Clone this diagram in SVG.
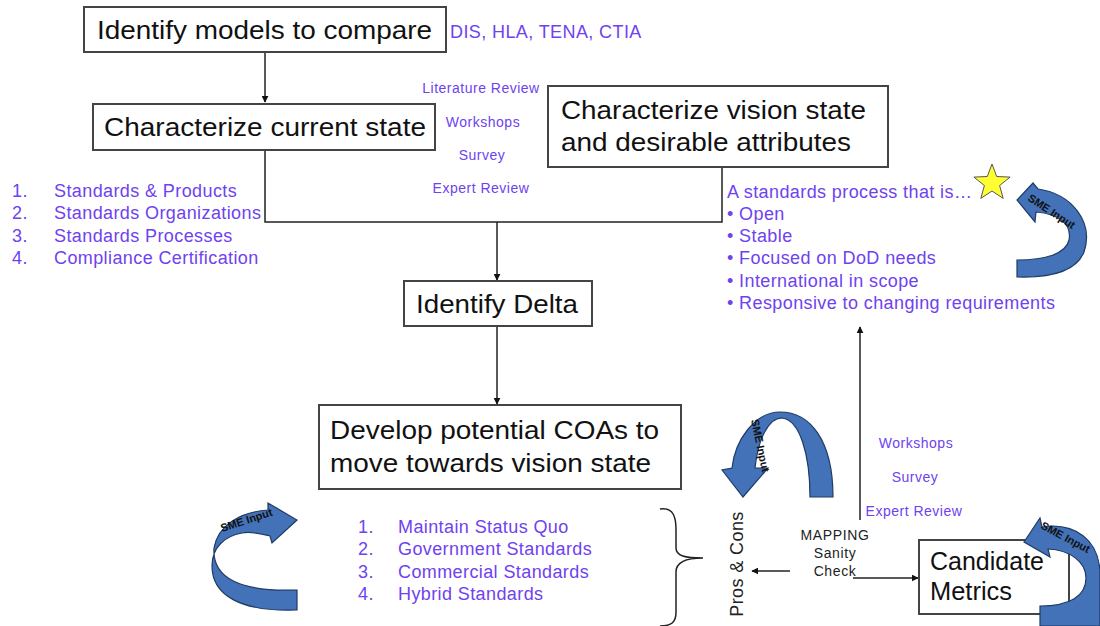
<svg xmlns="http://www.w3.org/2000/svg" width="1100" height="626" viewBox="0 0 1100 626">
<defs>
<style>
.box{fill:#fff;stroke:#444;stroke-width:2}
.bt{font-family:"Liberation Sans",Arial,sans-serif;font-size:26px;fill:#111}
.pt{font-family:"Liberation Sans",Arial,sans-serif;font-size:18px;letter-spacing:0.4px;fill:#6e42f0}
.ps{font-family:"Liberation Sans",Arial,sans-serif;font-size:14px;letter-spacing:0.5px;fill:#6e42f0}
.bk{font-family:"Liberation Sans",Arial,sans-serif;font-size:14px;letter-spacing:0.6px;fill:#222}
.ln{fill:none;stroke:#222;stroke-width:1.5}
.sme{fill:#4372b8;stroke:#1f3b66;stroke-width:1.2}
.smet{font-family:"Liberation Sans",Arial,sans-serif;font-size:11px;font-weight:bold;fill:#111}
</style>
<marker id="ah" viewBox="0 0 10 10" refX="9" refY="5" markerWidth="7" markerHeight="7" orient="auto" markerUnits="userSpaceOnUse">
<path d="M0,0 L10,5 L0,10 Z" fill="#111"/>
</marker>
</defs>
<rect width="1100" height="626" fill="#fff"/>

<g id="connectors">
<line class="ln" x1="265" y1="52" x2="265" y2="102" marker-end="url(#ah)"/>
<polyline class="ln" points="265,150 265,222 722,222 722,167"/>
<line class="ln" x1="497" y1="222" x2="497" y2="280" marker-end="url(#ah)"/>
<line class="ln" x1="497" y1="326" x2="497" y2="404" marker-end="url(#ah)"/>
<line class="ln" x1="790" y1="571" x2="752" y2="571" marker-end="url(#ah)"/>
<line class="ln" x1="853" y1="578" x2="918" y2="578" marker-end="url(#ah)"/>
<line class="ln" x1="860" y1="520" x2="860" y2="327" marker-end="url(#ah)"/>
<path class="ln" d="M660,509 C674,507 676,518 676,530 L676,548 C676,556 685,558 703,558 C685,558 676,562 676,572 L676,612 C676,622 672,626 660,626"/>
</g>

<g id="n-identify-models">
<rect class="box" x="84" y="7" width="362" height="45"/>
<text class="bt" x="97" y="39" textLength="335" lengthAdjust="spacingAndGlyphs">Identify models to compare</text>
<text class="pt" x="450" y="38">DIS, HLA, TENA, CTIA</text>
</g>

<g id="n-current-state">
<rect class="box" x="93" y="104" width="342" height="46"/>
<text class="bt" x="104" y="136" textLength="322" lengthAdjust="spacingAndGlyphs">Characterize current state</text>
</g>

<g id="n-methods-top">
<text class="ps" x="481" y="93" text-anchor="middle">Literature Review</text>
<text class="ps" x="483" y="127" text-anchor="middle">Workshops</text>
<text class="ps" x="482" y="160" text-anchor="middle">Survey</text>
<text class="ps" x="481" y="193" text-anchor="middle">Expert Review</text>
</g>

<g id="n-vision-state">
<rect class="box" x="548" y="86" width="340" height="81"/>
<text class="bt" x="561" y="119" textLength="305" lengthAdjust="spacingAndGlyphs">Characterize vision state</text>
<text class="bt" x="561" y="151" textLength="290" lengthAdjust="spacingAndGlyphs">and desirable attributes</text>
</g>

<g id="n-current-list">
<text class="pt" x="12" y="197">1.</text><text class="pt" x="54" y="197">Standards &amp; Products</text>
<text class="pt" x="12" y="219">2.</text><text class="pt" x="54" y="219">Standards Organizations</text>
<text class="pt" x="12" y="242">3.</text><text class="pt" x="54" y="242">Standards Processes</text>
<text class="pt" x="12" y="264">4.</text><text class="pt" x="54" y="264">Compliance Certification</text>
</g>

<g id="n-vision-list">
<text class="pt" x="727" y="198">A standards process that is…</text>
<text class="pt" x="727" y="220">• Open</text>
<text class="pt" x="727" y="242">• Stable</text>
<text class="pt" x="727" y="264">• Focused on DoD needs</text>
<text class="pt" x="727" y="287">• International in scope</text>
<text class="pt" x="727" y="309">• Responsive to changing requirements</text>
</g>

<g id="n-star">
<polygon points="992,164 996.7,176.5 1010.1,177.1 999.6,185.5 1003.2,198.4 992,191 980.8,198.4 984.4,185.5 973.9,177.1 987.3,176.5" fill="#ffff33" stroke="#555" stroke-width="1"/>
</g>

<g id="n-identify-delta">
<rect class="box" x="404" y="281" width="188" height="45"/>
<text class="bt" x="416" y="313" textLength="162" lengthAdjust="spacingAndGlyphs">Identify Delta</text>
</g>

<g id="n-develop-coas">
<rect class="box" x="319" y="405" width="362" height="84"/>
<text class="bt" x="330" y="439" textLength="329" lengthAdjust="spacingAndGlyphs">Develop potential COAs to</text>
<text class="bt" x="330" y="472" textLength="321" lengthAdjust="spacingAndGlyphs">move towards vision state</text>
</g>

<g id="n-coa-list">
<text class="pt" x="358" y="533">1.</text><text class="pt" x="398" y="533">Maintain Status Quo</text>
<text class="pt" x="358" y="555">2.</text><text class="pt" x="398" y="555">Government Standards</text>
<text class="pt" x="358" y="578">3.</text><text class="pt" x="398" y="578">Commercial Standards</text>
<text class="pt" x="358" y="600">4.</text><text class="pt" x="398" y="600">Hybrid Standards</text>
</g>

<g id="n-pros-cons">
<text class="pt" x="0" y="0" text-anchor="middle" style="fill:#222" transform="translate(743,564) rotate(-90)">Pros &amp; Cons</text>
</g>

<g id="n-mapping">
<text class="bk" x="835" y="540" text-anchor="middle">MAPPING</text>
<text class="bk" x="835" y="558" text-anchor="middle">Sanity</text>
<text class="bk" x="835" y="576" text-anchor="middle">Check</text>
</g>

<g id="n-methods-bottom">
<text class="ps" x="916" y="448" text-anchor="middle">Workshops</text>
<text class="ps" x="915" y="482" text-anchor="middle">Survey</text>
<text class="ps" x="914" y="516" text-anchor="middle">Expert Review</text>
</g>

<g id="n-candidate-metrics">
<rect class="box" x="919" y="540" width="150" height="74"/>
<text class="bt" x="930" y="570" textLength="114" lengthAdjust="spacingAndGlyphs">Candidate</text>
<text class="bt" x="930" y="600" textLength="82" lengthAdjust="spacingAndGlyphs">Metrics</text>
</g>

<g id="n-sme-top">
<path class="sme" d="M1038,189 C1072,194 1094,222 1084,252 C1076,272 1048,278 1017,277 L1017,260 C1045,260 1066,254 1069,240 C1072,225 1060,214 1036,212 L1035,222 L1017,200 L1033,183 Z"/>
<text class="smet" transform="translate(1027,200) rotate(33)">SME Input</text>
</g>

<g id="n-sme-mid">
<path class="sme" d="M732,468 C735,440 755,412 780,412 C810,412 833,440 833,497 L810,497 C810,455 800,420 782,418 C768,418 758,440 755,468 L768,468 L743,497 L722,470 Z"/>
<text class="smet" transform="translate(751,420) rotate(78)">SME Input</text>
</g>

<g id="n-sme-left">
<path class="sme" d="M268,510 C240,512 218,525 214,548 C212,578 240,592 297,590 L297,610 C240,612 212,595 212,566 C212,547 225,536 242,533 C252,531 262,534 270,536 L272,543 L297,520 L268,503 Z"/>
<text class="smet" transform="translate(222,532) rotate(-18)">SME Input</text>
</g>

<g id="n-sme-right">
<path class="sme" d="M1042,527 C1075,522 1100,540 1100,575 L1100,626 L1040,626 L1040,606 C1070,606 1086,596 1086,578 C1086,562 1070,550 1048,549 L1050,557 L1024,542 L1040,518 Z"/>
<text class="smet" transform="translate(1040,528) rotate(28)">SME Input</text>
</g>
</svg>
